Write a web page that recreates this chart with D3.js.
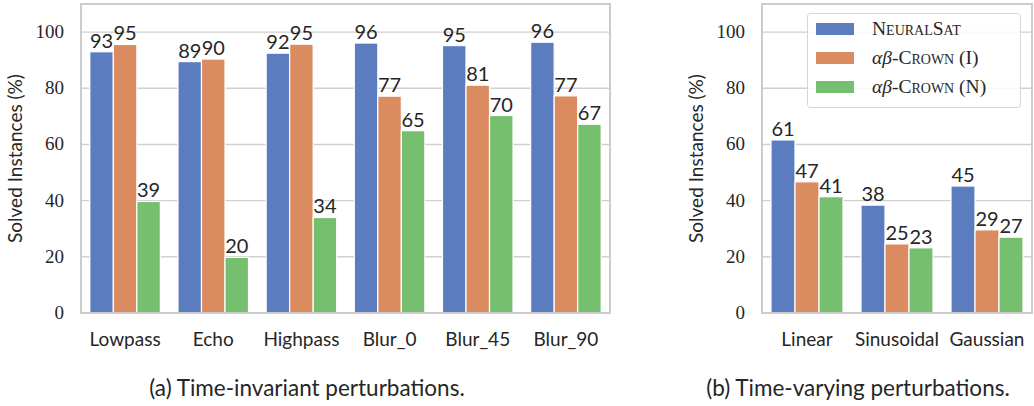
<!DOCTYPE html>
<html>
<head>
<meta charset="utf-8">
<script src="https://cdn.jsdelivr.net/npm/d3@7"></script>
<style>
  body { margin: 0; background: #fff; }
  svg text { fill: #262626; }
</style>
</head>
<body>
<svg id="chart" width="1034" height="406"></svg>
<script>
// series names
const seriesNames = ["NeuralSat", "CrownI", "CrownN"];
const colors = ["#5b7dc0", "#db8b60", "#76bf6f"];

// (a) time-invariant
const catsA = ["Lowpass", "Echo", "Highpass", "Blur_0", "Blur_45", "Blur_90"];
const neuralsatA = [93.0, 89.5, 92.5, 96.1, 95.2, 96.4];
const crownIA = [95.6, 90.4, 95.7, 77.2, 81.1, 77.3];
const crownNA = [39.7, 19.8, 34.0, 64.9, 70.3, 67.2];
const labelsA = [[93, 89, 92, 96, 95, 96], [95, 90, 95, 77, 81, 77], [39, 20, 34, 65, 70, 67]];

// (b) time-varying
const catsB = ["Linear", "Sinusoidal", "Gaussian"];
const neuralsatB = [61.6, 38.4, 45.2];
const crownIB = [46.7, 24.6, 29.6];
const crownNB = [41.4, 23.2, 27.0];
const labelsB = [[61, 38, 45], [47, 25, 29], [41, 23, 27]];

const yTicks = [0, 20, 40, 60, 80, 100];

const svg = d3.select("#chart");

function panel(opts) {
  const { x0, x1, y0, y1, cats, series, labels, caption, captionX, ylabelX, legend } = opts;
  const g = svg.append("g");

  const y = d3.scaleLinear().domain([0, 110]).range([y1, y0]);
  const x = d3.scaleBand().domain(cats).range([x0, x1]).paddingInner(0.2).paddingOuter(0.1);
  const xs = d3.scaleBand().domain(d3.range(series.length)).range([0, x.bandwidth()]);

  // grid
  g.selectAll("line.grid").data(yTicks.slice(1)).enter().append("line")
    .attr("x1", x0).attr("x2", x1)
    .attr("y1", d => y(d)).attr("y2", d => y(d))
    .attr("stroke", "#d0d0d0").attr("stroke-width", 1.4);

  // y tick labels
  g.selectAll("text.ytick").data(yTicks).enter().append("text")
    .attr("x", x0 - 17).attr("y", d => y(d) + 6)
    .attr("text-anchor", "end")
    .style("font-family", "'Liberation Serif', serif")
    .style("font-size", "19px")
    .text(d => d);

  // bars
  series.forEach((vals, si) => {
    g.selectAll(null).data(vals).enter().append("rect")
      .attr("x", (d, i) => x(cats[i]) + xs(si))
      .attr("y", d => y(d))
      .attr("width", xs.bandwidth())
      .attr("height", d => y(0) - y(d))
      .attr("fill", colors[si])
      .attr("stroke", "#fff").attr("stroke-width", 1.2);

    g.selectAll(null).data(vals).enter().append("text")
      .attr("x", (d, i) => x(cats[i]) + xs(si) + xs.bandwidth() / 2)
      .attr("y", d => y(d) - 4)
      .attr("text-anchor", "middle")
      .style("font-family", "Lato, sans-serif")
      .style("font-size", "20px")
      .text((d, i) => labels[si][i]);
  });

  // frame
  g.append("rect")
    .attr("x", x0).attr("y", y0)
    .attr("width", x1 - x0).attr("height", y1 - y0)
    .attr("fill", "none").attr("stroke", "#cccccc").attr("stroke-width", 2);

  // category labels
  g.selectAll("text.xcat").data(cats).enter().append("text")
    .attr("x", d => x(d) + x.bandwidth() / 2)
    .attr("y", y1 + 33)
    .attr("text-anchor", "middle")
    .style("font-family", "Lato, sans-serif")
    .style("font-size", "19px")
    .text(d => d);

  // y label
  g.append("text")
    .attr("transform", `translate(${ylabelX},${(y0 + y1) / 2}) rotate(-90)`)
    .attr("text-anchor", "middle")
    .style("font-family", "Lato, sans-serif")
    .style("font-size", "19px")
    .text("Solved Instances (%)");

  // caption
  g.append("text")
    .attr("x", captionX).attr("y", 396)
    .attr("text-anchor", "middle")
    .style("font-family", "Lato, sans-serif")
    .style("font-size", "22.5px")
    .text(caption);

  if (legend) {
    const lg = g.append("g");
    lg.append("rect")
      .attr("x", 807.5).attr("y", 13.5).attr("width", 213).attr("height", 94)
      .attr("rx", 3).attr("fill", "#fff").attr("fill-opacity", 0.85)
      .attr("stroke", "#d5d5d5").attr("stroke-width", 1);
    const rowY = d3.scalePoint().domain(d3.range(3)).range([29, 87]);
    d3.range(3).forEach(i => {
      lg.append("rect")
        .attr("x", 816).attr("y", rowY(i) - 6).attr("width", 38).attr("height", 12)
        .attr("fill", colors[i]);
      const t = lg.append("text")
        .attr("x", 872).attr("y", rowY(i) + 6)
        .style("font-family", "'Liberation Serif', serif")
        .style("font-size", "19.5px");
      if (i === 0) {
        t.append("tspan").style("font-variant", "small-caps").text("NeuralSat");
      } else {
        t.append("tspan").style("font-style", "italic").text("αβ");
        t.append("tspan").style("font-variant", "small-caps").text("-Crown");
        t.append("tspan").text(i === 1 ? " (I)" : " (N)");
      }
    });
  }
}

panel({
  x0: 81, x1: 610, y0: 4, y1: 313,
  cats: catsA, series: [neuralsatA, crownIA, crownNA], labels: labelsA,
  caption: "(a) Time-invariant perturbations.", captionX: 307, ylabelX: 22
});

panel({
  x0: 762, x1: 1032, y0: 4, y1: 313,
  cats: catsB, series: [neuralsatB, crownIB, crownNB], labels: labelsB,
  caption: "(b) Time-varying perturbations.", captionX: 858, ylabelX: 703, legend: true
});
</script>
</body>
</html>
